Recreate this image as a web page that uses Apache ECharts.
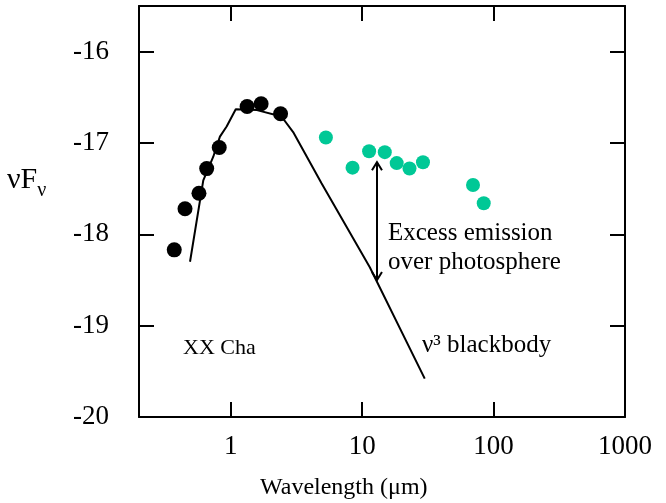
<!DOCTYPE html>
<html>
<head>
<meta charset="utf-8">
<script src="https://cdn.jsdelivr.net/npm/echarts@6/dist/echarts.min.js"></script>
<style>
  html, body { margin: 0; padding: 0; background: #fff; }
  #chart { width: 666px; height: 503px; }
</style>
</head>
<body>
<div id="chart"></div>
<script>
// Optical / near-IR photometry of XX Cha (wavelength in µm, log νFν)
const photWave = [0.371, 0.448, 0.572, 0.655, 0.816, 1.33, 1.70, 2.39];
const photFlux = [-18.17, -17.72, -17.55, -17.28, -17.05, -16.60, -16.57, -16.68];

// Mid/far-IR photometry showing the excess
const irWave = [5.29, 8.44, 11.28, 14.85, 18.3, 22.9, 29.0, 69.7, 84.1];
const irFlux = [-16.94, -17.27, -17.09, -17.10, -17.22, -17.28, -17.21, -17.46, -17.66];

// Stellar photosphere model (ν³ blackbody tail)
const modelWave = [0.489, 0.617, 0.735, 0.826, 0.929, 1.09, 1.58, 2.43, 2.98, 4.90, 11.42, 29.9];
const modelFlux = [-18.30, -17.41, -17.15, -16.93, -16.82, -16.63, -16.64, -16.71, -16.88, -17.44, -18.36, -19.58];

// Double-headed arrow marking the excess: [wavelength, upper, lower]
const excessArrow = [[12.95, -17.21, -18.50]];

const xTicksShown = [1, 10, 100, 1000];

const serif = '"Liberation Serif", "Times New Roman", serif';

const chart = echarts.init(document.getElementById('chart'), null, { renderer: 'canvas' });

const boxLine = { show: true, lineStyle: { color: '#000', width: 2 } };
const innerTick = { show: true, inside: true, length: 15, lineStyle: { color: '#000', width: 2 } };

function chevron(tip, dir) {
  // dir = 1 points up, -1 points down
  return {
    type: 'polyline',
    shape: { points: [[tip[0] - 5, tip[1] + dir * 8], tip, [tip[0] + 5, tip[1] + dir * 8]] },
    style: { stroke: '#000', lineWidth: 2, fill: null }
  };
}

chart.setOption({
  animation: false,
  backgroundColor: '#fff',
  grid: {
    left: 139, right: 41, top: 6, bottom: 86,
    containLabel: false,
    outerBoundsMode: 'none'
  },
  xAxis: [
    {
      type: 'log', logBase: 10, min: 0.2, max: 1000, position: 'bottom',
      axisLine: boxLine, axisTick: innerTick, splitLine: { show: false },
      axisLabel: {
        margin: 16, color: '#000', fontFamily: serif, fontSize: 27,
        showMinLabel: false,
        formatter: v => (xTicksShown.some(t => Math.abs(t - v) / t < 1e-6) ? String(Math.round(v)) : '')
      }
    },
    {
      type: 'log', logBase: 10, min: 0.2, max: 1000, position: 'top',
      axisLine: boxLine, axisTick: innerTick, splitLine: { show: false },
      axisLabel: { show: false }
    }
  ],
  yAxis: [
    {
      type: 'value', min: -20, max: -15.5, interval: 1, position: 'left',
      axisLine: boxLine, axisTick: innerTick, splitLine: { show: false },
      axisLabel: {
        margin: 30, color: '#000', fontFamily: serif, fontSize: 27,
        showMaxLabel: false
      }
    },
    {
      type: 'value', min: -20, max: -15.5, interval: 1, position: 'right',
      axisLine: boxLine, axisTick: innerTick, splitLine: { show: false },
      axisLabel: { show: false }
    }
  ],
  series: [
    {
      name: 'ν³ blackbody', type: 'line',
      data: modelWave.map((w, i) => [w, modelFlux[i]]),
      showSymbol: false, symbol: 'none',
      lineStyle: { color: '#000', width: 2 },
      z: 2
    },
    {
      name: 'photosphere', type: 'scatter',
      data: photWave.map((w, i) => [w, photFlux[i]]),
      symbol: 'circle', symbolSize: 15,
      itemStyle: { color: '#000', opacity: 1 },
      z: 3
    },
    {
      name: 'infrared excess', type: 'scatter',
      data: irWave.map((w, i) => [w, irFlux[i]]),
      symbol: 'circle', symbolSize: 14,
      itemStyle: { color: '#00c896', opacity: 1 },
      z: 3
    },
    {
      name: 'excess arrow', type: 'custom',
      data: excessArrow,
      renderItem: (params, api) => {
        const top = api.coord([api.value(0), api.value(1)]);
        const bot = api.coord([api.value(0), api.value(2)]);
        return {
          type: 'group',
          children: [
            {
              type: 'line',
              shape: { x1: top[0], y1: top[1], x2: bot[0], y2: bot[1] },
              style: { stroke: '#000', lineWidth: 2 }
            },
            chevron(top, 1),
            chevron(bot, -1)
          ]
        };
      },
      z: 4
    }
  ],
  graphic: [
    {
      type: 'text', left: 7, top: 165,
      style: {
        text: '{a|νF}{b|ν}',
        rich: {
          a: { fontFamily: serif, fontSize: 30, fill: '#000', verticalAlign: 'bottom' },
          b: { fontFamily: serif, fontSize: 20, fill: '#000', verticalAlign: 'bottom', padding: [0, 0, -6, 0] }
        }
      }
    },
    {
      type: 'text', left: 260, top: 476,
      style: { text: 'Wavelength (μm)', fontFamily: serif, fontSize: 24, fill: '#000' }
    },
    {
      type: 'text', left: 388, top: 219,
      style: {
        text: 'Excess emission\nover photosphere',
        fontFamily: serif, fontSize: 25, lineHeight: 29, fill: '#000'
      }
    },
    {
      type: 'text', left: 422, top: 333,
      style: { text: 'ν³ blackbody', fontFamily: serif, fontSize: 25, fill: '#000' }
    },
    {
      type: 'text', left: 183, top: 337,
      style: { text: 'XX Cha', fontFamily: serif, fontSize: 22, fill: '#000' }
    }
  ]
});
</script>
</body>
</html>
